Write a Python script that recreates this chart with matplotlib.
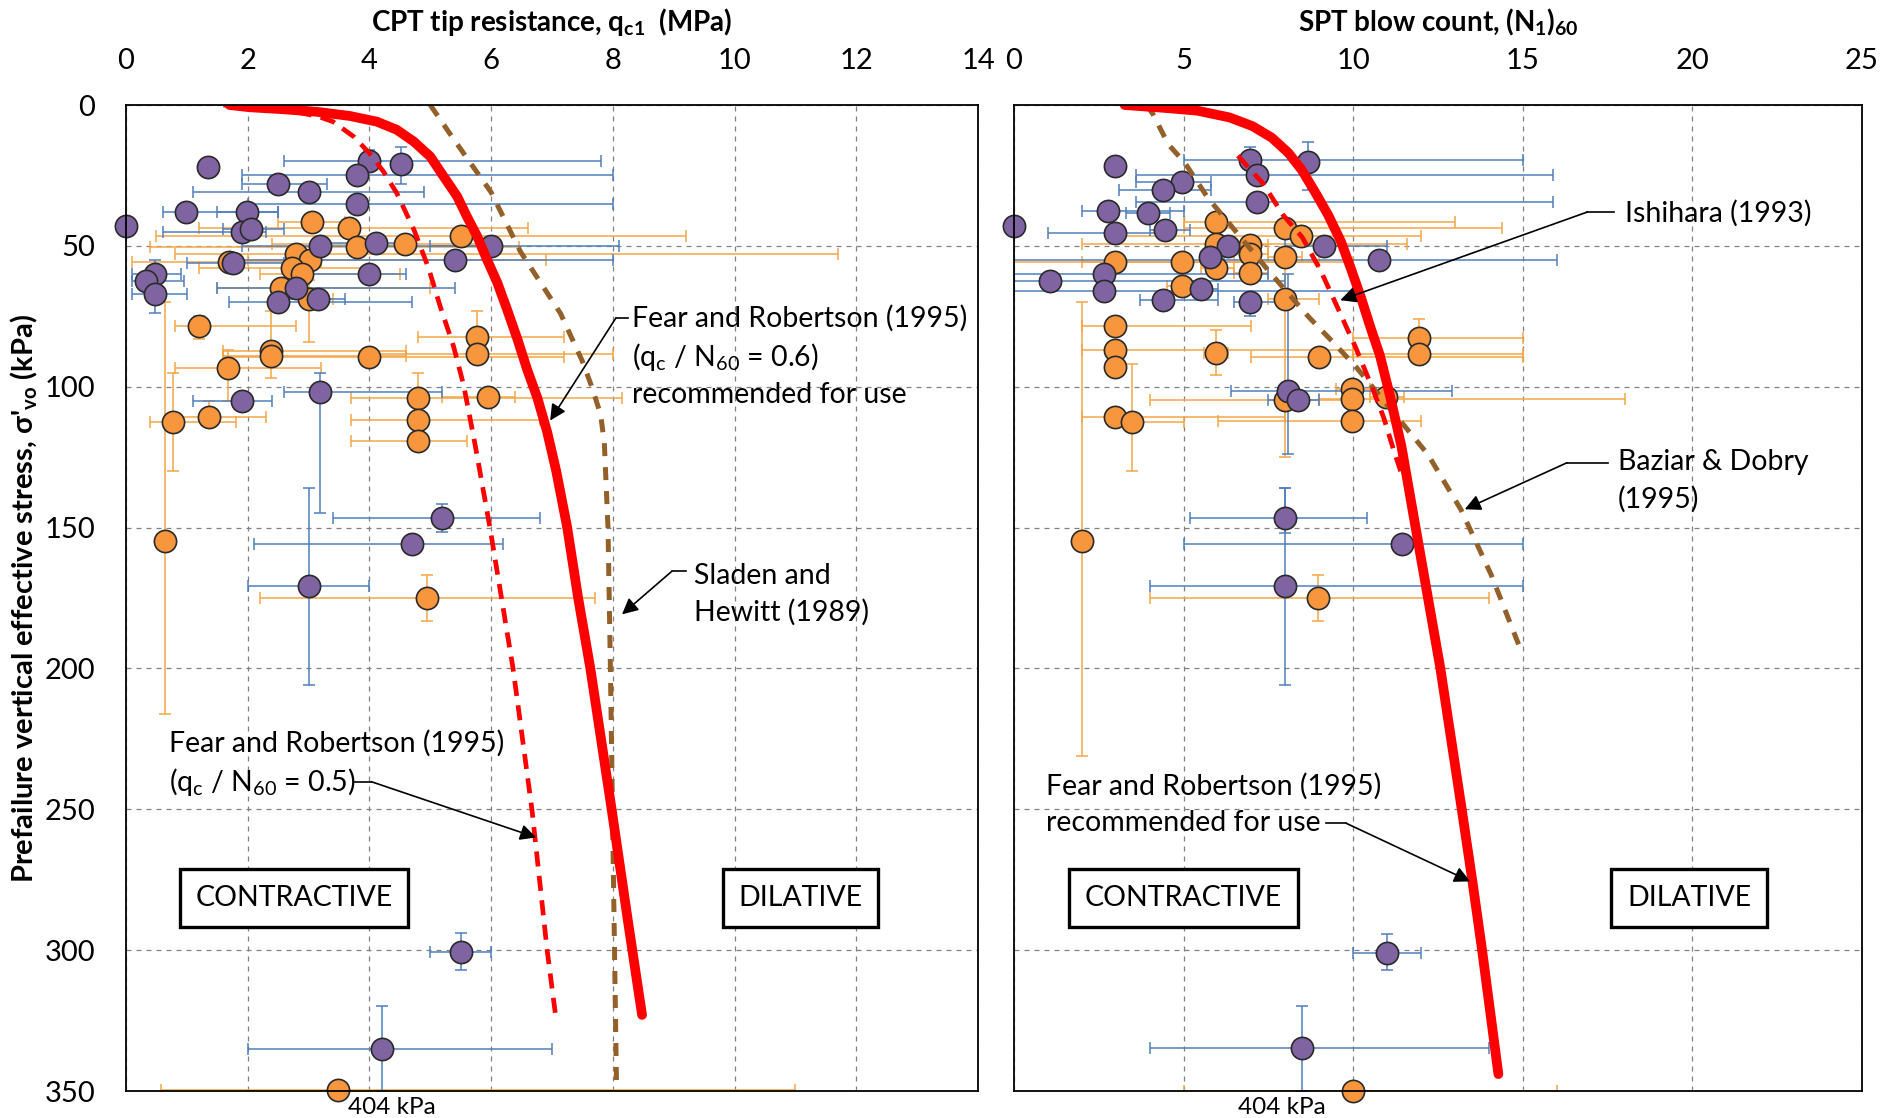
import numpy as np
import matplotlib
matplotlib.use("Agg")
import matplotlib.pyplot as plt

plt.rcParams['font.family'] = ['Lato', 'DejaVu Sans']
plt.rcParams['mathtext.fontset'] = 'custom'
plt.rcParams['mathtext.rm'] = 'Lato'
plt.rcParams['mathtext.it'] = 'Lato:italic'
plt.rcParams['mathtext.bf'] = 'Lato:bold'

# ---- CPT panel: case histories (value, stress, error bounds) ----
cpt_p_q = [1.35, 0.0, 2.5, 3.0, 4.0, 4.52, 3.8, 3.8, 0.99, 1.99, 1.9, 2.05, 3.19, 4.1, 5.4, 6.0,
           4.0, 0.48, 0.33, 0.48, 2.8, 2.5, 3.16, 1.76, 3.19, 1.9, 5.2, 4.7, 3.0, 5.5, 4.2]
cpt_p_s = [22, 43, 28, 31, 20, 21, 25, 35, 38, 38, 45, 44, 50, 49, 55, 50,
           60, 60, 62.5, 67, 65, 70, 69, 56, 102, 105, 146.6, 156, 170.7, 300.7, 335]
cpt_p_qlo = [1.35, 0, 1.9, 1.1, 2.6, 4.52, 1.9, 2.0, 0.6, 1.5, 0.6, 1.6, 1.9, 3.3, 1.7, 5.0,
             3.0, 0.1, 0.1, 0.1, 1.5, 1.7, 2.4, 1.0, 2.6, 1.1, 3.4, 2.1, 2.0, 5.0, 2.0]
cpt_p_qhi = [1.35, 0, 3.3, 4.9, 7.8, 4.52, 8.0, 8.0, 2.5, 2.5, 2.3, 2.6, 6.0, 4.6, 8.0, 8.1,
             4.6, 0.9, 0.95, 1.0, 5.4, 4.7, 3.6, 2.6, 5.2, 2.4, 6.8, 6.2, 4.0, 6.0, 7.0]
cpt_p_slo = [22, 43, 28, 31, 16, 15, 25, 35, 38, 38, 45, 44, 50, 49, 55, 50,
             60, 55, 62.5, 62, 65, 70, 69, 56, 95, 105, 141.7, 156, 136, 294, 320]
cpt_p_shi = [22, 43, 28, 31, 22, 28, 25, 35, 38, 38, 45, 44, 50, 49, 55, 50,
             60, 60, 62.5, 74, 65, 70, 69, 56, 145, 105, 151.5, 156, 206, 307, 350]

cpt_o_q = [3.05, 3.67, 3.8, 4.59, 5.5, 1.7, 2.8, 3.02, 2.72, 2.9, 2.55, 3.0, 1.2, 2.39,
           2.39, 4.0, 5.77, 5.76, 1.68, 4.79, 5.95, 4.79, 4.79, 0.78, 1.36, 0.64, 4.94, 3.48]
cpt_o_s = [41.6, 43.7, 50.5, 49.3, 46.6, 55.8, 53, 55, 58, 60, 65, 69, 78.4, 87.3,
           89, 89.3, 82.5, 88.4, 93.2, 104, 103.8, 111.7, 119.3, 112.6, 110.8, 154.7, 175, 349.5]
cpt_o_qlo = [2.5, 1.2, 0.4, 2.4, 0.5, 0.1, 0.8, 2.0, 1.2, 2.2, 1.5, 2.6, 0.8, 1.6,
             1.6, 1.6, 4.8, 4.0, 0.8, 3.7, 5.2, 3.7, 3.7, 0.4, 0.8, 0.64, 2.2, 0.58]
cpt_o_qhi = [3.6, 6.6, 6.45, 6.0, 9.2, 3.2, 11.7, 6.9, 4.0, 4.5, 5.0, 3.4, 2.8, 4.6,
             4.6, 7.2, 7.2, 8.0, 3.2, 8.15, 6.4, 6.8, 5.6, 1.8, 2.3, 0.64, 7.7, 11.0]
cpt_o_slo = [41.6, 43.7, 50.5, 49.3, 46.6, 55.8, 53, 55, 58, 60, 65, 62, 75, 73,
             89, 89.3, 73, 88.4, 87, 95, 103.8, 111.7, 119.3, 95, 105, 70, 167, 349.5]
cpt_o_shi = [41.6, 43.7, 50.5, 49.3, 46.6, 55.8, 53, 55, 58, 60, 65, 84, 83, 97,
             89, 89.3, 82.5, 88.4, 105, 104, 103.8, 111.7, 119.3, 130, 112, 216, 183, 349.5]

# ---- SPT panel ----
spt_p_n = [2.97, 0.0, 4.96, 4.38, 6.96, 8.66, 7.17, 7.15, 2.77, 3.96, 2.97, 4.46, 6.32, 5.79, 9.14,
           10.75, 1.07, 2.66, 2.66, 5.52, 4.38, 6.96, 8.07, 8.37, 8.0, 11.45, 8.0, 11.0, 8.5]
spt_p_s = [21.5, 43, 27.5, 30, 19.5, 20.4, 25, 34.3, 37.6, 38.2, 45.5, 44.3, 50.2, 54, 50,
           55, 62.4, 60, 66, 65.4, 69.1, 70.1, 101.4, 104.7, 146.7, 155.9, 170.7, 300.9, 334.8]
spt_p_nlo = [2.97, 0, 3.6, 3.1, 5.0, 8.66, 3.6, 3.6, 2.0, 3.3, 1.0, 4.0, 6.0, 5.5, 8.0,
             0, 0, 0, 0, 5.0, 3.7, 6.5, 6.4, 7.5, 5.2, 5.0, 4.0, 10.0, 4.0]
spt_p_nhi = [2.97, 0, 5.8, 5.8, 15.0, 8.66, 15.9, 15.9, 5.0, 4.6, 4.5, 5.2, 6.7, 6.2, 11.0,
             16.0, 8.0, 7.5, 10.0, 6.0, 6.0, 8.0, 12.9, 9.0, 10.4, 15.0, 15.0, 12.0, 14.0]
spt_p_slo = [21.5, 43, 27.5, 30, 15, 13, 25, 34.3, 37.6, 38.2, 45.5, 44.3, 50.2, 54, 50,
             55, 62.4, 60, 66, 65.4, 69.1, 67, 60, 104.7, 136, 155.9, 136, 294.4, 320]
spt_p_shi = [21.5, 43, 27.5, 30, 22, 30, 25, 34.3, 37.6, 38.2, 45.5, 44.3, 50.2, 54, 50,
             55, 62.4, 60, 66, 65.4, 69.1, 75, 124, 104.7, 152, 155.9, 206, 307, 350]

spt_o_n = [5.95, 7.98, 8.46, 5.95, 6.96, 6.96, 2.97, 4.96, 5.95, 7.98, 6.96, 4.96, 7.98, 2.97, 2.97,
           2.97, 5.95, 8.98, 11.94, 11.94, 7.98, 9.97, 9.97, 10.96, 9.97, 2.97, 3.48, 1.99, 8.97, 10.0]
spt_o_s = [41.4, 43.5, 46.5, 49.4, 49.6, 53, 55.9, 55.9, 57.9, 54.1, 59.8, 64.1, 68.9, 78.4, 87,
           93.1, 88.1, 89.4, 82.7, 88.4, 104.7, 100.8, 104.4, 103.5, 112, 110.9, 112.5, 154.7, 175.1, 349.9]
spt_o_nlo = [5.0, 5.0, 3.0, 2.0, 6.5, 6.5, 0.0, 2.0, 5.5, 7.5, 6.5, 4.5, 7.5, 2.0, 2.0,
             2.9, 5.6, 7.0, 10.0, 10.0, 4.0, 9.5, 9.0, 10.5, 6.0, 2.0, 3.0, 1.99, 4.0, 5.0]
spt_o_nhi = [13.0, 14.4, 12.0, 11.6, 7.5, 7.5, 9.0, 10.0, 6.5, 8.5, 7.5, 5.5, 9.0, 7.0, 10.0,
             3.1, 6.3, 15.0, 15.0, 15.0, 10.0, 10.5, 18.0, 11.5, 12.0, 8.0, 5.0, 1.99, 14.0, 16.0]
spt_o_slo = [41.4, 43.5, 46.5, 49.4, 49.6, 53, 55.9, 55.9, 57.9, 54.1, 59.8, 64.1, 57, 78.4, 87,
             93.1, 80, 89.4, 76, 88.4, 104.7, 100.8, 104.4, 103.5, 112, 110.9, 92, 70, 167, 349.9]
spt_o_shi = [41.4, 43.5, 46.5, 49.4, 49.6, 53, 55.9, 55.9, 57.9, 54.1, 59.8, 64.1, 125, 78.4, 87,
             93.1, 96, 89.4, 83, 88.4, 104.7, 100.8, 104.4, 103.5, 112, 110.9, 130, 231, 183, 349.9]

# ---- boundary curves ----
fr06_s = [0, 0.8, 1.5, 2.4, 3.9, 5.9, 8.8, 13, 18.3, 25.4, 32.4, 39.5, 46.6, 54.8, 63, 72.5,
          83, 93.8, 104, 116, 130, 150, 175, 200, 250, 290, 323]
fr06_q = [1.7, 2.03, 2.58, 3.13, 3.68, 4.12, 4.45, 4.73, 5.0, 5.22, 5.44, 5.6, 5.77, 5.93, 6.1, 6.26,
          6.43, 6.59, 6.76, 6.92, 7.07, 7.25, 7.43, 7.63, 7.98, 8.25, 8.48]
fr05_s = [0, 1, 2.5, 4, 5.9, 11.2, 17.1, 23.6, 31.3, 44.2, 57.8, 71.3, 85.5, 99.6, 121,
          150, 175, 200, 250, 300, 325]
fr05_q = [1.6, 2.2, 2.8, 3.15, 3.4, 3.74, 4.0, 4.23, 4.45, 4.73, 4.97, 5.16, 5.38, 5.55, 5.74,
          5.98, 6.17, 6.36, 6.67, 6.92, 7.07]
sladen_s = [0, 12, 31, 52, 74, 91, 101, 110, 120, 150, 200, 260, 348]
sladen_q = [5.0, 5.38, 6.0, 6.48, 7.14, 7.5, 7.67, 7.8, 7.86, 7.92, 7.96, 8.0, 8.06]

fr_spt_s = [0, 1, 2, 4.4, 7.5, 11.6, 17, 23, 30.8, 39, 48.5, 58, 68, 78.6, 89, 103, 121,
            150, 200, 250, 276, 300, 344]
fr_spt_n = [3.26, 4.41, 5.4, 6.35, 7.03, 7.6, 8.09, 8.48, 8.87, 9.26, 9.64, 9.93, 10.22, 10.5,
            10.79, 11.08, 11.42, 11.84, 12.57, 13.2, 13.52, 13.8, 14.28]
ishihara_s = [18, 28, 39, 47, 59, 73, 86, 100, 111, 122, 130]
ishihara_n = [6.6, 7.35, 7.93, 8.5, 9.05, 9.58, 10.07, 10.55, 10.9, 11.18, 11.4]
baziar_s = [0, 3.3, 14, 20.4, 32.9, 59.5, 75.4, 84, 92.8, 124, 143.7, 166.8, 192.2]
baziar_n = [3.9, 4.1, 4.55, 5.03, 5.71, 7.55, 8.7, 9.39, 10.07, 12.2, 13.18, 14.07, 14.9]

PURPLE = '#8064a2'
ORANGE = '#f7963c'
BLUE_BAR = '#4f7fbc'
ORANGE_BAR = '#f5a546'
RED = '#ff0000'
BROWN = '#94602a'
FS = 20.5


def draw_points(ax, x, y, xlo, xhi, ylo, yhi, face, bar):
    x = np.array(x, float); y = np.array(y, float)
    xerr = [x - np.array(xlo), np.array(xhi) - x]
    yerr = [y - np.array(ylo), np.array(yhi) - y]
    ax.errorbar(x, y, xerr=xerr, yerr=yerr, fmt='none', ecolor=bar,
                elinewidth=1.1, capsize=4.5, capthick=1.1, zorder=2)
    ax.plot(x, y, 'o', ms=16, mfc=face, mec='#2a2a2a', mew=1.2,
            zorder=3, clip_on=False)


def leader(ax, join_x, bend, tip):
    ax.plot([join_x, bend[0]], [bend[1], bend[1]], color='black', lw=1.2, zorder=6)
    ax.annotate('', xy=tip, xytext=bend,
                arrowprops=dict(arrowstyle='-|>', color='black', lw=1.2,
                                mutation_scale=24, shrinkA=0, shrinkB=0),
                zorder=6)


def lines(ax, x, ys, texts):
    for yy, t in zip(ys, texts):
        ax.text(x, yy, t, fontsize=FS, va='center', ha='left', zorder=7)


def setup(ax, xmax, xstep):
    ax.set_xlim(0, xmax)
    ax.set_ylim(350, 0)
    ax.set_xticks(np.arange(0, xmax + 1, xstep))
    ax.set_yticks(np.arange(0, 351, 50))
    ax.xaxis.tick_top()
    ax.tick_params(length=0, labelsize=21, pad=22)
    ax.grid(True, ls=(0, (4, 4)), color='#808080', lw=0.9, zorder=0)
    for sp in ax.spines.values():
        sp.set_color('black')
        sp.set_linewidth(1.3)
        sp.set_zorder(5)


fig = plt.figure(figsize=(19, 11.18), dpi=100)
bottom = 1 - 1091 / 1118
height = (1091 - 105) / 1118
axL = fig.add_axes([126 / 1900, bottom, (978 - 126) / 1900, height])
axR = fig.add_axes([1014 / 1900, bottom, (1862 - 1014) / 1900, height])

# left: CPT
setup(axL, 14, 2)
draw_points(axL, cpt_o_q, cpt_o_s, cpt_o_qlo, cpt_o_qhi, cpt_o_slo, cpt_o_shi, ORANGE, ORANGE_BAR)
draw_points(axL, cpt_p_q, cpt_p_s, cpt_p_qlo, cpt_p_qhi, cpt_p_slo, cpt_p_shi, PURPLE, BLUE_BAR)
axL.plot(sladen_q, sladen_s, color=BROWN, lw=3.6, ls=(0, (2.6, 2.2)), zorder=4)
axL.plot(fr05_q, fr05_s, color=RED, lw=3.4, ls=(0, (3.2, 2.0)), zorder=4)
axL.plot(fr06_q, fr06_s, color=RED, lw=7, solid_capstyle='round', solid_joinstyle='round', zorder=4)

lines(axL, 8.31, [75.6, 89.5, 102.8],
      ['Fear and Robertson (1995)', r'(q$_\mathrm{c}$ / N$_\mathrm{60}$ = 0.6)', 'recommended for use'])
leader(axL, 8.25, (8.05, 75.6), (6.97, 112))
lines(axL, 9.33, [167.3, 179.9], ['Sladen and', 'Hewitt (1989)'])
leader(axL, 9.2, (8.97, 165.5), (8.15, 180.8))
lines(axL, 0.70, [226.6, 240.2],
      ['Fear and Robertson (1995)', r'(q$_\mathrm{c}$ / N$_\mathrm{60}$ = 0.5)'])
leader(axL, 3.75, (4.03, 240.2), (6.74, 260))

# right: SPT
setup(axR, 25, 5)
axR.tick_params(labelleft=False)
draw_points(axR, spt_o_n, spt_o_s, spt_o_nlo, spt_o_nhi, spt_o_slo, spt_o_shi, ORANGE, ORANGE_BAR)
draw_points(axR, spt_p_n, spt_p_s, spt_p_nlo, spt_p_nhi, spt_p_slo, spt_p_shi, PURPLE, BLUE_BAR)
axR.plot(baziar_n, baziar_s, color=BROWN, lw=3.6, ls=(0, (2.6, 2.2)), zorder=4)
axR.plot(ishihara_n, ishihara_s, color=RED, lw=3.4, ls=(0, (3.2, 2.0)), zorder=4)
axR.plot(fr_spt_n, fr_spt_s, color=RED, lw=7, solid_capstyle='round', solid_joinstyle='round', zorder=4)

lines(axR, 18.02, [38.5], ['Ishihara (1993)'])
leader(axR, 17.7, (16.9, 38), (9.62, 69.3))
lines(axR, 17.8, [126.9, 140], ['Baziar & Dobry', '(1995)'])
leader(axR, 17.5, (16.3, 127), (13.29, 143.5))
lines(axR, 0.94, [242, 255], ['Fear and Robertson (1995)', 'recommended for use'])
leader(axR, 9.2, (9.8, 255), (13.45, 275.6))

# region boxes and the off-scale note
box = dict(boxstyle='square,pad=0.55', fc='white', ec='black', lw=2.4)
for ax, cx, dx in [(axL, 2.76, 11.08), (axR, 5.0, 19.9)]:
    ax.text(cx, 281.5, 'CONTRACTIVE', fontsize=FS, ha='center', va='center', bbox=box, zorder=7)
    ax.text(dx, 281.5, 'DILATIVE', fontsize=FS, ha='center', va='center', bbox=box, zorder=7)
axL.text(4.37, 352, '404 kPa', fontsize=17.5, ha='center', va='top', clip_on=False)
axR.text(7.9, 352, '404 kPa', fontsize=17.5, ha='center', va='top', clip_on=False)

fig.text(552 / 1900, 1 - 22 / 1118, r'CPT tip resistance, q$_\mathbf{c1}$  (MPa)',
         fontsize=20, fontweight='bold', ha='center', va='center')
fig.text(1438 / 1900, 1 - 22 / 1118, r'SPT blow count, (N$_\mathbf{1}$)$_\mathbf{60}$',
         fontsize=20, fontweight='bold', ha='center', va='center')
fig.text(24 / 1900, 1 - 598 / 1118, r"Prefailure vertical effective stress, σ'$_\mathbf{vo}$ (kPa)",
         fontsize=21, fontweight='bold', ha='center', va='center', rotation=90)

fig.savefig('out.png', dpi=100)
